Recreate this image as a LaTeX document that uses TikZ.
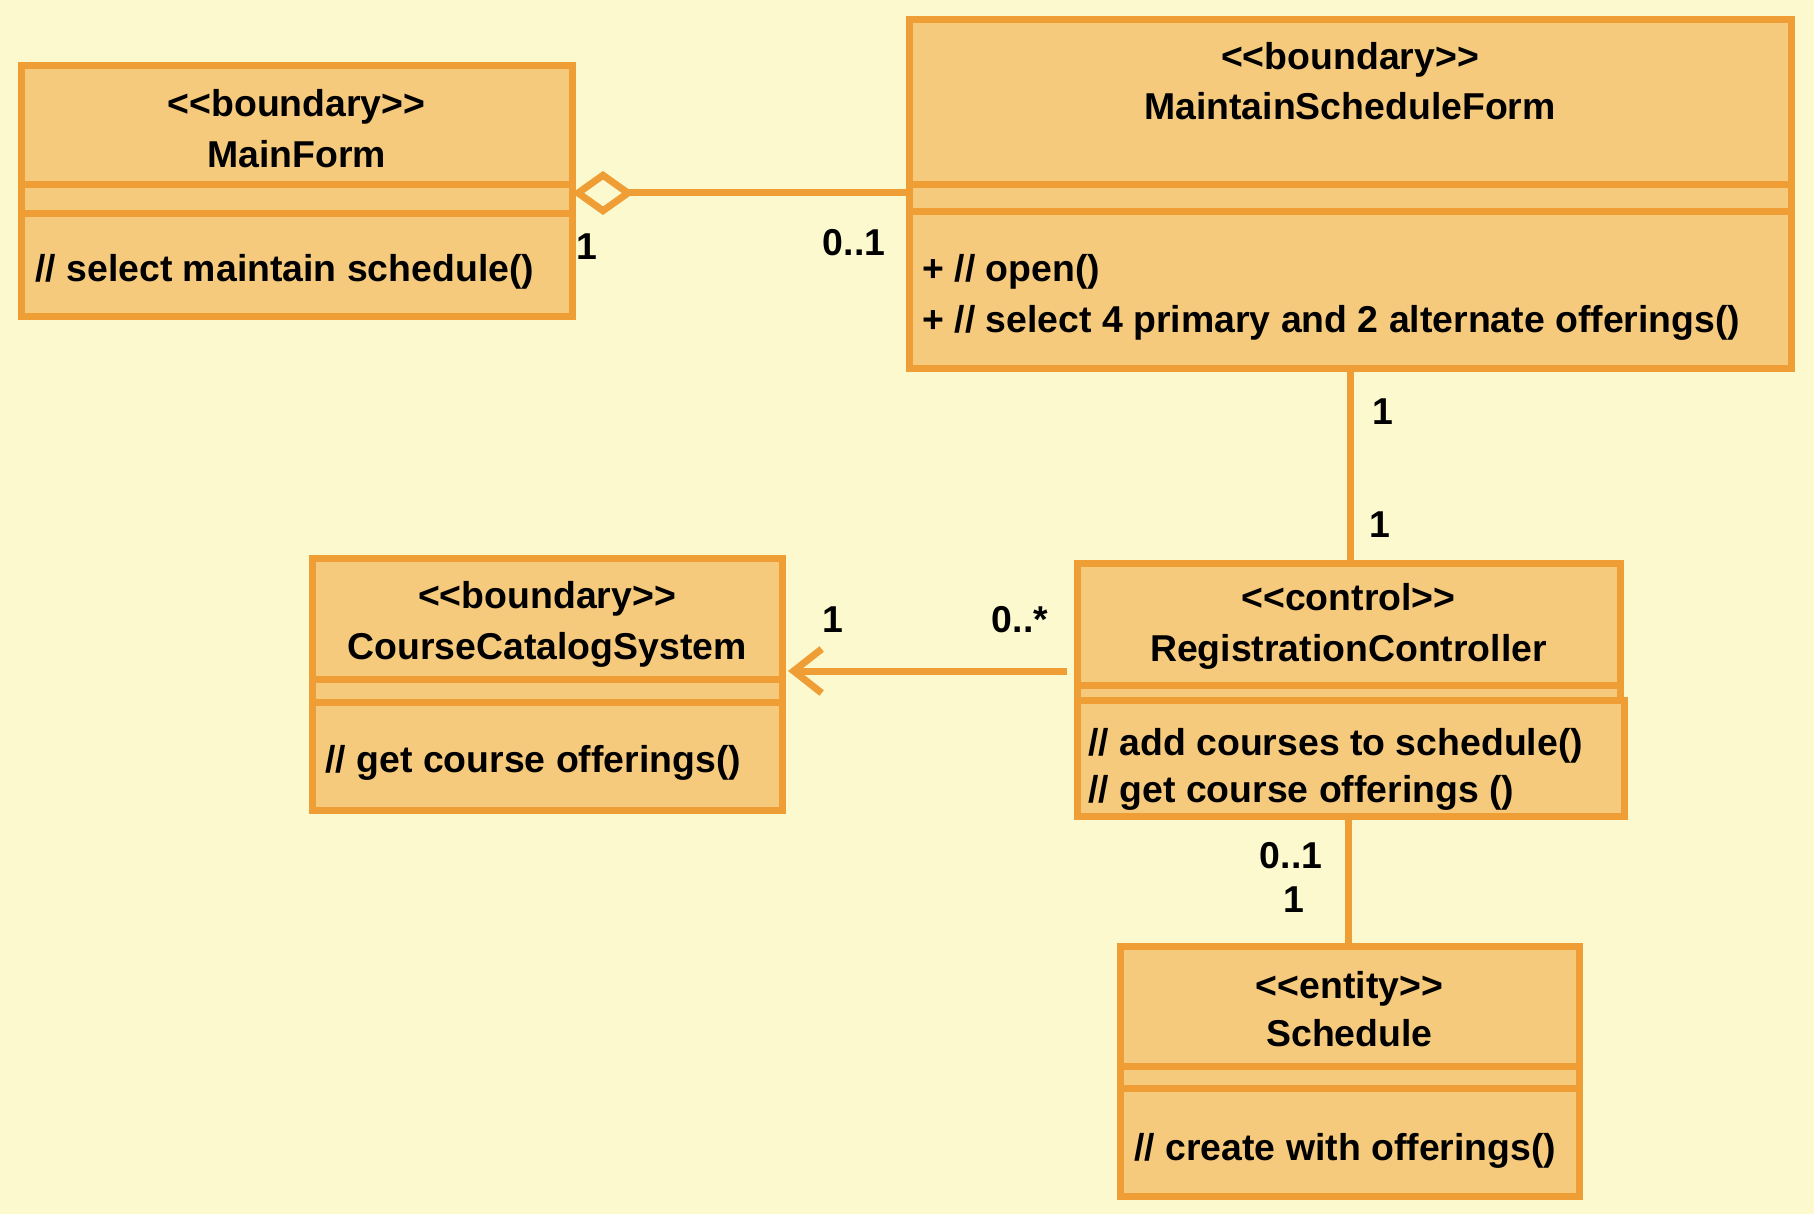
\documentclass[tikz,border=0pt]{standalone}
\usepackage{fontspec}
\newfontfamily\umlfont{Liberation Sans}
\usetikzlibrary{arrows.meta}
\definecolor{bg}{HTML}{FCF9CF}
\definecolor{boxfill}{HTML}{F6CA7C}
\definecolor{boxline}{HTML}{EF9E36}
\begin{document}
\begin{tikzpicture}[x=0.5pt,y=-0.5pt,
  classbox/.style={draw=boxline, fill=boxfill, line width=3.5pt, anchor=north west, inner sep=0pt, outer sep=0pt},
  divider/.style={draw=boxline, line width=3.5pt},
  txt/.style={font=\umlfont\fontsize{18.7}{22}\selectfont\bfseries, text=black, inner sep=0pt, text height=13.4pt, text depth=0pt},
  op/.style={txt, anchor=west},
  conn/.style={draw=boxline, line width=3.5pt}]
% background
\fill[bg] (0,0) rectangle (1814,1214);
\useasboundingbox (0,0) rectangle (1814,1214);

% ---------- MainForm ----------
\node[classbox, minimum width=275.5pt, minimum height=125pt] (mf) at (21,66) {};
\draw[divider] (21,185) -- (572,185);
\draw[divider] (21,214) -- (572,214);
\node[txt] (mfst) at (296.5,103) {<<boundary>>};
\node[txt] (mfname) at (296.5,154) {MainForm};
\node[op] (mfop) at (35,268) {// select maintain schedule()};

% ---------- MaintainScheduleForm ----------
\node[classbox, minimum width=441pt, minimum height=174pt] (msf) at (909,20) {};
\draw[divider] (909,185) -- (1791,185);
\draw[divider] (909,212) -- (1791,212);
\node[txt] (msfst) at (1350,56) {<<boundary>>};
\node[txt] (msfname) at (1350,106) {MaintainScheduleForm};
\node[op] (msfop1) at (922,268) {+ // open()};
\node[op] (msfop2) at (922,319) {+ // select 4 primary and 2 alternate offerings()};

% ---------- CourseCatalogSystem ----------
\node[classbox, minimum width=235pt, minimum height=126pt] (ccs) at (312,558) {};
\draw[divider] (312,679) -- (782,679);
\draw[divider] (312,702) -- (782,702);
\node[txt] (ccsst) at (547,595) {<<boundary>>};
\node[txt] (ccsname) at (547,646) {CourseCatalogSystem};
\node[op] (ccsop) at (325,759) {// get course offerings()};

% ---------- RegistrationController ----------
\node[classbox, minimum width=271.5pt, minimum height=126.5pt] (rc) at (1077,563) {};
\draw[divider, fill=boxfill] (1077,700) rectangle (1624,816);
\draw[divider] (1077,685) -- (1620,685);
\node[txt] (rcst) at (1348.5,597) {<<control>>};
\node[txt] (rcname) at (1348.5,648) {RegistrationController};
\node[op] (rcop1) at (1088,742) {// add courses to schedule()};
\node[op] (rcop2) at (1088,789) {// get course offerings ()};

% ---------- Schedule ----------
\node[classbox, minimum width=229.5pt, minimum height=125pt] (sch) at (1120,946) {};
\draw[divider] (1120,1066) -- (1579,1066);
\draw[divider] (1120,1088) -- (1579,1088);
\node[txt] (schst) at (1349.5,985) {<<entity>>};
\node[txt] (schname) at (1349.5,1033) {Schedule};
\node[op] (schop) at (1134,1147) {// create with offerings()};

% ---------- connectors ----------
\coordinate (aggstart) at ([yshift=-1pt]mf.east);
\draw[conn, {Diamond[length=31pt,width=22pt,fill=bg]}-] (aggstart) -- (msf.west |- aggstart);
\node[txt] (m1) at (587,246) {1};
\node[txt] (m2) at (854,242) {0..1};

\draw[conn] (msf.south) -- (rc.north -| msf.south);
\node[txt] (m3) at (1383,411) {1};
\node[txt] (m4) at (1380,524) {1};

\coordinate (rcin) at ([xshift=-5pt,yshift=9.25pt]rc.west);
\draw[conn, -{Straight Barb[length=14pt,width=22pt]}] (rcin) -- ([xshift=3pt]ccs.east |- rcin);
\node[txt] (m5) at (833,619) {1};
\node[txt] (m6) at (1020,619) {0..*};

\draw[conn] (rc.south) -- (sch.north -| rc.south);
\node[txt] (m7) at (1291,855) {0..1};
\node[txt] (m8) at (1294,899) {1};
\end{tikzpicture}
\end{document}
